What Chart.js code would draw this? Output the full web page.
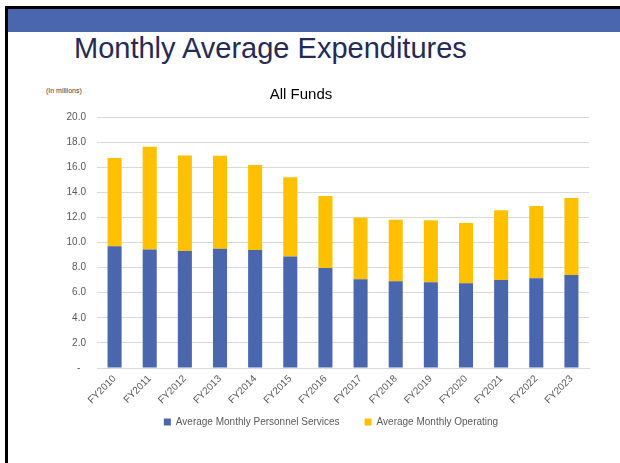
<!DOCTYPE html>
<html>
<head>
<meta charset="utf-8">
<script src="https://cdn.jsdelivr.net/npm/chart.js@4/dist/chart.umd.min.js"></script>
<style>
  body { margin: 0; background: #fff; }
  #slide { position: relative; width: 620px; height: 463px; overflow: hidden; font-family: "Liberation Sans", Arial, sans-serif; }
  #topline { position: absolute; left: 5px; top: 6px; width: 615px; height: 3px; background: #000; }
  #leftline { position: absolute; left: 5px; top: 6px; width: 3px; height: 457px; background: #000; }
  #band { position: absolute; left: 8px; top: 9px; width: 612px; height: 23px; background: #4A66AC; }
  #heading { position: absolute; left: 74px; top: 34px; font-size: 29px; line-height: 29px; color: #262A55; white-space: nowrap; }
  #units { position: absolute; left: 46px; top: 87px; font-size: 7px; line-height: 8px; color: #404040; white-space: nowrap; }
  #chart { position: absolute; left: 0; top: 0; }
</style>
</head>
<body>
<div id="slide">
  <div id="topline"></div>
  <div id="leftline"></div>
  <div id="band"></div>
  <div id="heading">Monthly Average Expenditures</div>
  <div id="units">(In millions)</div>
  <canvas id="chart" width="620" height="463"></canvas>
</div>
<script>
// data (millions)
const years = ["FY2010", "FY2011", "FY2012", "FY2013", "FY2014", "FY2015", "FY2016",
  "FY2017", "FY2018", "FY2019", "FY2020", "FY2021", "FY2022", "FY2023"];
const personnel = [9.71, 9.45, 9.32, 9.50, 9.40, 8.89, 7.97, 7.07, 6.91, 6.83, 6.75, 7.02, 7.15, 7.42];
const operating = [7.02, 8.18, 7.62, 7.42, 6.78, 6.31, 5.73, 4.91, 4.91, 4.94, 4.81, 5.54, 5.76, 6.12];

const grey = "#595959";
const font = { family: "'Liberation Sans', Arial, sans-serif", size: 10 };

// move the legend so it sits where the original one does
const shiftLegend = {
  id: "shiftLegend",
  afterLayout(chart) {
    const lg = chart.legend;
    if (lg) {
      lg.left += 30; lg.right += 30;
      lg.top -= 20; lg.bottom -= 20;
    }
  }
};

const ctx = document.getElementById("chart").getContext("2d");
const chart = new Chart(ctx, {
  type: "bar",
  data: {
    labels: years,
    datasets: [
      {
        label: "Average Monthly Personnel Services",
        data: personnel,
        backgroundColor: "#4A66AC",
        borderWidth: 0,
      },
      {
        label: "Average Monthly Operating",
        data: operating,
        backgroundColor: "#FFC000",
        borderWidth: 0,
      },
    ],
  },
  options: {
    responsive: false,
    animation: false,
    layout: { padding: { top: 86, left: 13, right: 31, bottom: 6 } },
    datasets: { bar: { categoryPercentage: 1, barPercentage: 0.4 } },
    scales: {
      x: {
        stacked: true,
        grid: { display: false, drawTicks: false },
        border: { display: true, color: "#D9D9D9" },
        ticks: { color: grey, font: font, maxRotation: 45, minRotation: 45, padding: 5 },
        afterFit: (s) => { s.height = 44; },
      },
      y: {
        stacked: true,
        min: 0,
        max: 20,
        grid: { color: "#D9D9D9", drawTicks: false },
        border: { display: false },
        ticks: {
          stepSize: 2,
          color: grey,
          font: font,
          padding: 11,
          callback: (v) => (v === 0 ? "-  " : v.toFixed(1)),
        },
        afterFit: (s) => { s.width = 84; },
      },
    },
    plugins: {
      title: {
        display: true,
        text: "All Funds",
        color: "#000",
        font: { family: font.family, size: 15, weight: "normal" },
        padding: { top: 0, bottom: 13 },
      },
      legend: {
        position: "bottom",
        labels: { color: grey, font: font, boxWidth: 7, boxHeight: 7, padding: 25 },
      },
      tooltip: { enabled: false },
    },
  },
  plugins: [shiftLegend],
});
</script>
</body>
</html>
